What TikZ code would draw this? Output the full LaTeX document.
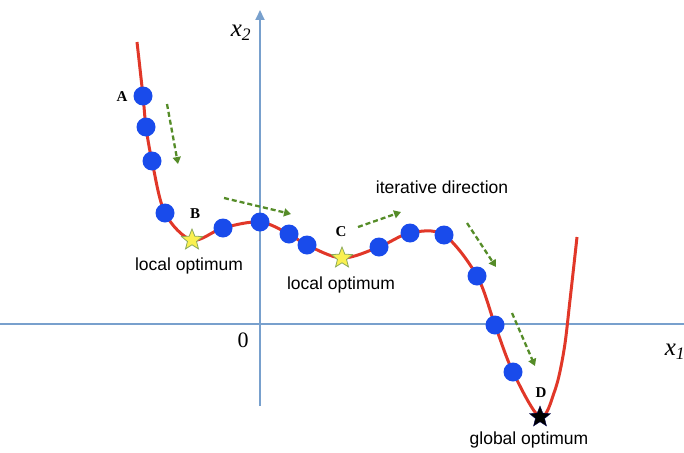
\documentclass[tikz,border=0pt]{standalone}
\usepackage{fontspec}
\setmainfont{Liberation Serif}
\newfontfamily\labelfont{Liberation Sans}
\usetikzlibrary{shapes.geometric,arrows.meta}
\definecolor{curvered}{RGB}{225,55,40}
\definecolor{dotblue}{RGB}{25,75,235}
\definecolor{axisblue}{RGB}{120,160,205}
\definecolor{arrowgreen}{RGB}{85,140,40}
\definecolor{staryellow}{RGB}{250,240,80}
\definecolor{staredge}{RGB}{140,170,90}
\begin{document}
\begin{tikzpicture}[x=1pt,y=-1pt,
  axisline/.style={draw=axisblue,line width=2pt},
  curveline/.style={draw=curvered,line width=3pt},
  dotnode/.style={circle,fill=dotblue,inner sep=0pt,minimum size=19pt},
  starnode/.style={star,star points=5,star point ratio=2.3,inner sep=0pt,minimum size=22pt},
  ystar/.style={starnode,fill=staryellow,draw=staredge,line width=0.8pt},
  kstar/.style={starnode,fill=black,draw=black!70!blue},
  garrow/.style={draw=arrowgreen,line width=2.3pt,dash pattern=on 5pt off 3pt,-{Triangle[length=7pt,width=8pt]}},
  letter/.style={font=\fontsize{15}{17}\selectfont\bfseries},
  txt/.style={font=\labelfont\fontsize{17.5}{20}\selectfont},
  axlabel/.style={font=\fontsize{25}{28}\selectfont\itshape}
]
\useasboundingbox (0,0) rectangle (684,452);
% axes
\coordinate (xl) at (0,324);
\coordinate (xr) at (684,324);
\coordinate (ybot) at (260,406);
\coordinate (ytop) at (260,10);
\draw[axisline] (xl) -- (xr);
\draw[axisline,-{Triangle[length=10pt,width=9pt]}] (ybot) -- (ytop);
\node[axlabel] (x2) at (241,33) {x\textsubscript{2}};
\node[axlabel] (x1) at (675,352) {x\textsubscript{1}};
\node[font=\fontsize{22}{24}\selectfont] (zero) at (243,340) {0};
% curve
\draw[curveline] plot[smooth,tension=0.55] coordinates {
 (137,42) (143,96) (146,127) (152,161) (165,213) (192,240) (223,228) (260,222)
 (289,234) (307,245) (342,258) (379,247) (410,233) (444,235) (477,276)
 (495,325) (513,372) (540,417) (555,390) (564,350) (570,300) (577,237)};
% dots
\foreach \i/\p in {1/{(143,96)},2/{(146,127)},3/{(152,161)},4/{(165,213)},5/{(223,228)},
  6/{(260,222)},7/{(289,234)},8/{(307,245)},9/{(379,247)},10/{(410,233)},11/{(444,235)},
  12/{(477,276)},13/{(495,325)},14/{(513,372)}}
  \node[dotnode] (d\i) at \p {};
% stars
\node[ystar] (B) at (192,240) {};
\node[ystar] (C) at (342,258) {};
\node[kstar] (D) at (540,417) {};
% letters
\node[letter] (lA) at (122,97) {A};
\node[letter] (lB) at (195,214) {B};
\node[letter] (lC) at (341,232) {C};
\node[letter] (lD) at (541,393) {D};
% texts
\node[txt] (t1) at (189,266) {local optimum};
\node[txt] (t2) at (341,285) {local optimum};
\node[txt] (t3) at (442,187) {iterative direction};
\node[txt] (t4) at (529,440) {global optimum};
% green arrows
\coordinate (a1s) at (167,104); \coordinate (a1e) at (178,164);
\coordinate (a2s) at (224,198); \coordinate (a2e) at (291,214);
\coordinate (a3s) at (358,227); \coordinate (a3e) at (401,212);
\coordinate (a4s) at (467,223); \coordinate (a4e) at (496,267);
\coordinate (a5s) at (512,313); \coordinate (a5e) at (535,366);
\draw[garrow] (a1s) -- (a1e);
\draw[garrow] (a2s) -- (a2e);
\draw[garrow] (a3s) -- (a3e);
\draw[garrow] (a4s) -- (a4e);
\draw[garrow] (a5s) -- (a5e);
\end{tikzpicture}
\end{document}
